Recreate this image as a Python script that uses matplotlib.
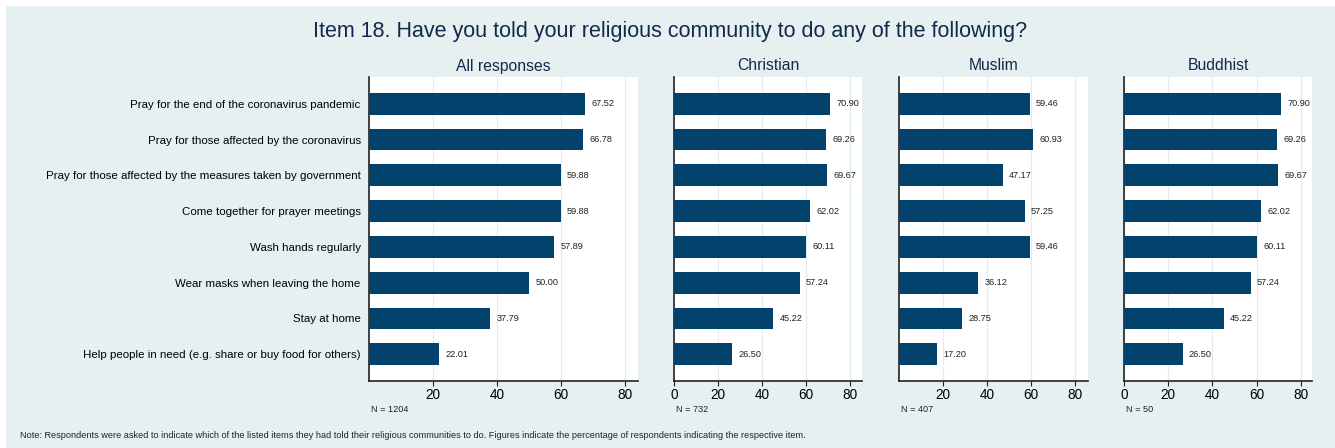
import numpy as np
import matplotlib.pyplot as plt
from matplotlib.patches import Rectangle

plt.rcParams['font.family'] = ['Liberation Sans', 'DejaVu Sans']

# data
categories = ["Pray for the end of the coronavirus pandemic",
              "Pray for those affected by the coronavirus",
              "Pray for those affected by the measures taken by government",
              "Come together for prayer meetings",
              "Wash hands regularly",
              "Wear masks when leaving the home",
              "Stay at home",
              "Help people in need (e.g. share or buy food for others)"]
all_resp = [67.52, 66.78, 59.88, 59.88, 57.89, 50.00, 37.79, 22.01]
christian = [70.90, 69.26, 69.67, 62.02, 60.11, 57.24, 45.22, 26.50]
muslim = [59.46, 60.93, 47.17, 57.25, 59.46, 36.12, 28.75, 17.20]
buddhist = [70.90, 69.26, 69.67, 62.02, 60.11, 57.24, 45.22, 26.50]
panel_titles = ["All responses", "Christian", "Muslim", "Buddhist"]
n_labels = ["N = 1204", "N = 732", "N = 407", "N = 50"]
panel_ticks = [[20, 40, 60, 80], [0, 20, 40, 60, 80], [20, 40, 60, 80], [0, 20, 40, 60, 80]]

W, H = 1335, 448
bg = "#e6f0f1"
bar_col = "#02426c"
navy = "#13294b"

fig = plt.figure(figsize=(W / 100, H / 100), dpi=100)
fig.patch.set_facecolor("white")
fig.patches.append(Rectangle((6 / W, 0), 1, 1 - 6 / H, transform=fig.transFigure,
                             facecolor=bg, edgecolor="none", zorder=-10))

# axes pixel extents (left, right)
extents = [(369, 638), (674, 862), (899, 1088), (1124, 1312)]
top, bottom = 77, 381
series = [all_resp, christian, muslim, buddhist]
xmax = [84, 85.5, 86, 85]

y = np.arange(len(categories))
for i, (vals, (l, r)) in enumerate(zip(series, extents)):
    ax = fig.add_axes([l / W, 1 - bottom / H, (r - l) / W, (bottom - top) / H])
    ax.set_facecolor("white")
    ax.barh(y, vals, height=0.61, color=bar_col, zorder=3)
    for yy, v in zip(y, vals):
        ax.annotate(f"{v:.2f}", (v, yy), xytext=(4.5, 0), textcoords="offset points",
                    va="center", ha="left", fontsize=6.6, color="#222222")
    ax.set_xlim(0, xmax[i])
    ax.set_ylim(len(categories) - 0.25, -0.75)
    ax.set_xticks(panel_ticks[i])
    ax.xaxis.grid(True, color="#e3edf0", linewidth=0.9, zorder=0)
    ax.tick_params(axis="x", length=3.5, width=0.8, labelsize=9.8, pad=1.5, color="#222222")
    for s in ["top", "right"]:
        ax.spines[s].set_visible(False)
    for s in ["left", "bottom"]:
        ax.spines[s].set_linewidth(1.2)
        ax.spines[s].set_color("#222222")
    ax.set_yticks(y)
    if i == 0:
        ax.set_yticklabels(categories, fontsize=8.25)
        ax.tick_params(axis="y", length=0, pad=6)
    else:
        ax.set_yticklabels([])
        ax.tick_params(axis="y", length=0)
    fig.text((l + r) / 2 / W, 1 - 66 / H, panel_titles[i], ha="center", va="center",
             fontsize=11.3, color=navy)
    fig.text((l + 2) / W, 1 - 409 / H, n_labels[i], ha="left", va="center",
             fontsize=6.6, color="#222222")

fig.text(670 / W, 1 - 32 / H,
         "Item 18. Have you told your religious community to do any of the following?",
         ha="center", va="center", fontsize=15.5, color=navy)
fig.text(20 / W, 1 - 435 / H,
         "Note: Respondents were asked to indicate which of the listed items they had told their "
         "religious communities to do. Figures indicate the percentage of respondents indicating "
         "the respective item.", ha="left", va="center", fontsize=6.6, color="#222222")

fig.savefig("out.png", dpi=100, facecolor=fig.get_facecolor())
